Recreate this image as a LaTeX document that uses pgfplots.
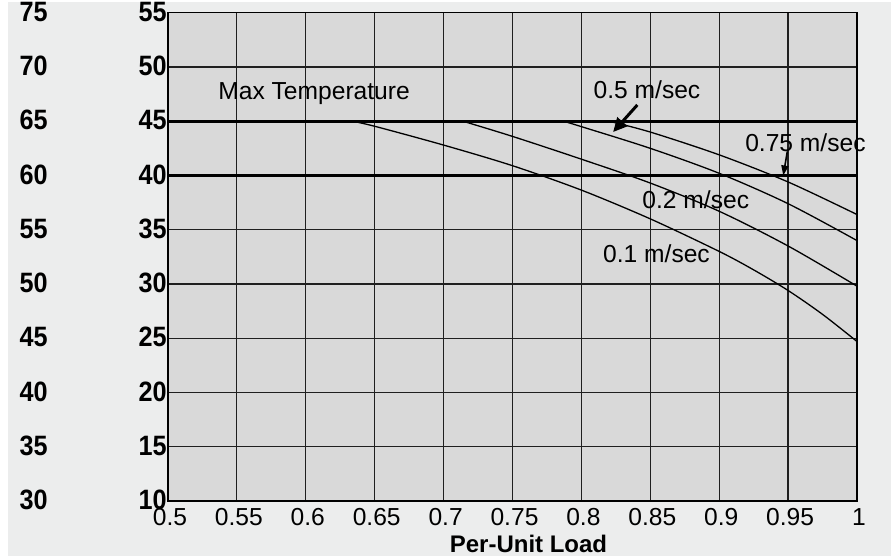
\documentclass[border=0pt]{standalone}
\usepackage{fontspec}
\setmainfont{Liberation Sans}
\newfontfamily\condsans[FakeStretch=0.9]{Liberation Sans}
\usepackage{pgfplots}
\pgfplotsset{compat=1.18}
\usetikzlibrary{arrows.meta,backgrounds}
\definecolor{plotgray}{HTML}{D9D9D9}
\definecolor{outergray}{HTML}{ECEDED}

\begin{document}
\begin{tikzpicture}
\pgfplotsset{
  common/.style={scale only axis, width=344.5bp, height=244.15bp,
    xmin=0.5, xmax=1, clip=false,
    /pgf/number format/assume math mode=true}
}
\tikzset{
  ylab/.style={font=\condsans\bfseries\fontsize{14bp}{16bp}\selectfont,
    anchor=east, inner sep=0pt},
  lab/.style={font=\fontsize{12.3bp}{14bp}\selectfont}
}
% outer temperature scale (ambient + 20)
\begin{axis}[common, hide x axis, axis y line*=left,
  y axis line style={draw=none}, ymin=30, ymax=75, ytick={30,35,...,75},
  major tick length=0pt, yticklabel style={ylab, xshift=-60bp, yshift=0.5bp}]
\addplot[draw=none] coordinates {(0.5,30) (1,75)};
\end{axis}

\begin{axis}[common, ymin=10, ymax=55,
  xtick={0.5,0.55,0.6,0.65,0.7,0.75,0.8,0.85,0.9,0.95,1},
  ytick={10,15,...,55},
  grid=major, major grid style={draw=black!88, line width=0.6bp},
  axis line style={black, line width=0.7bp},
  major tick length=0pt,
  axis background/.style={fill=plotgray},
  xticklabel style={lab, anchor=base, inner sep=0pt, yshift=-12bp, xshift=1bp},
  yticklabel style={ylab, xshift=-0.5bp, yshift=0.5bp},
  xlabel={Per-Unit Load},
  xlabel style={font=\bfseries\fontsize{12bp}{14bp}\selectfont,
    at={(axis description cs:0.5,0)}, anchor=base, inner sep=0pt,
    yshift=-25.5bp, xshift=8bp}]

% max temperature limits
\addplot[black, line width=1.35bp] coordinates {(0.5,45) (1,45)};
\addplot[black, line width=1.35bp] coordinates {(0.5,40) (1,40)};

% 0.1 m/sec
\addplot[black, line width=0.65bp, smooth] coordinates {
 (0.634,45) (0.651,44.5) (0.70,42.8) (0.75,40.9) (0.8,38.65)
 (0.85,36.0) (0.9,33.0) (0.925,31.3) (0.95,29.4) (0.975,27.2) (1.0,24.7)};
% 0.2 m/sec
\addplot[black, line width=0.65bp, smooth] coordinates {
 (0.714,45) (0.75,43.6) (0.8,41.5) (0.85,39.3) (0.9,36.7) (0.95,33.5) (1.0,29.8)};
% 0.5 m/sec
\addplot[black, line width=0.65bp, smooth] coordinates {
 (0.787,45) (0.8,44.5) (0.85,42.5) (0.9,40.2) (0.95,37.4) (1.0,34.0)};
% 0.75 m/sec
\addplot[black, line width=0.65bp, smooth] coordinates {
 (0.82,45) (0.85,44.0) (0.9,41.9) (0.95,39.4) (1.0,36.4)};

\node[lab] at (axis cs:0.606,47.5) {Max Temperature};
\node[lab] at (axis cs:0.8476,47.9) {0.5 m/sec};
\node[lab] at (axis cs:0.9626,43.0) {0.75 m/sec};
\node[lab] at (axis cs:0.883,37.8) {0.2 m/sec};
\node[lab] at (axis cs:0.8545,32.8) {0.1 m/sec};

\draw[line width=1.5bp, -{Triangle[length=7bp, width=6.5bp]}]
  (axis cs:0.8406,46.5) -- (axis cs:0.823,44.0);
\draw[line width=0.8bp, -{Triangle[length=5bp, width=3.5bp]}]
  (axis cs:0.9494,42.2) -- (axis cs:0.9465,40.0);
\end{axis}

\begin{scope}[on background layer]
\fill[outergray] (-80bp,-27.5bp) rectangle (361.5bp,249.5bp);
\end{scope}
\pgfresetboundingbox
\useasboundingbox (-84bp,-27.5bp) rectangle (361.5bp,250.5bp);
\end{tikzpicture}
\end{document}
